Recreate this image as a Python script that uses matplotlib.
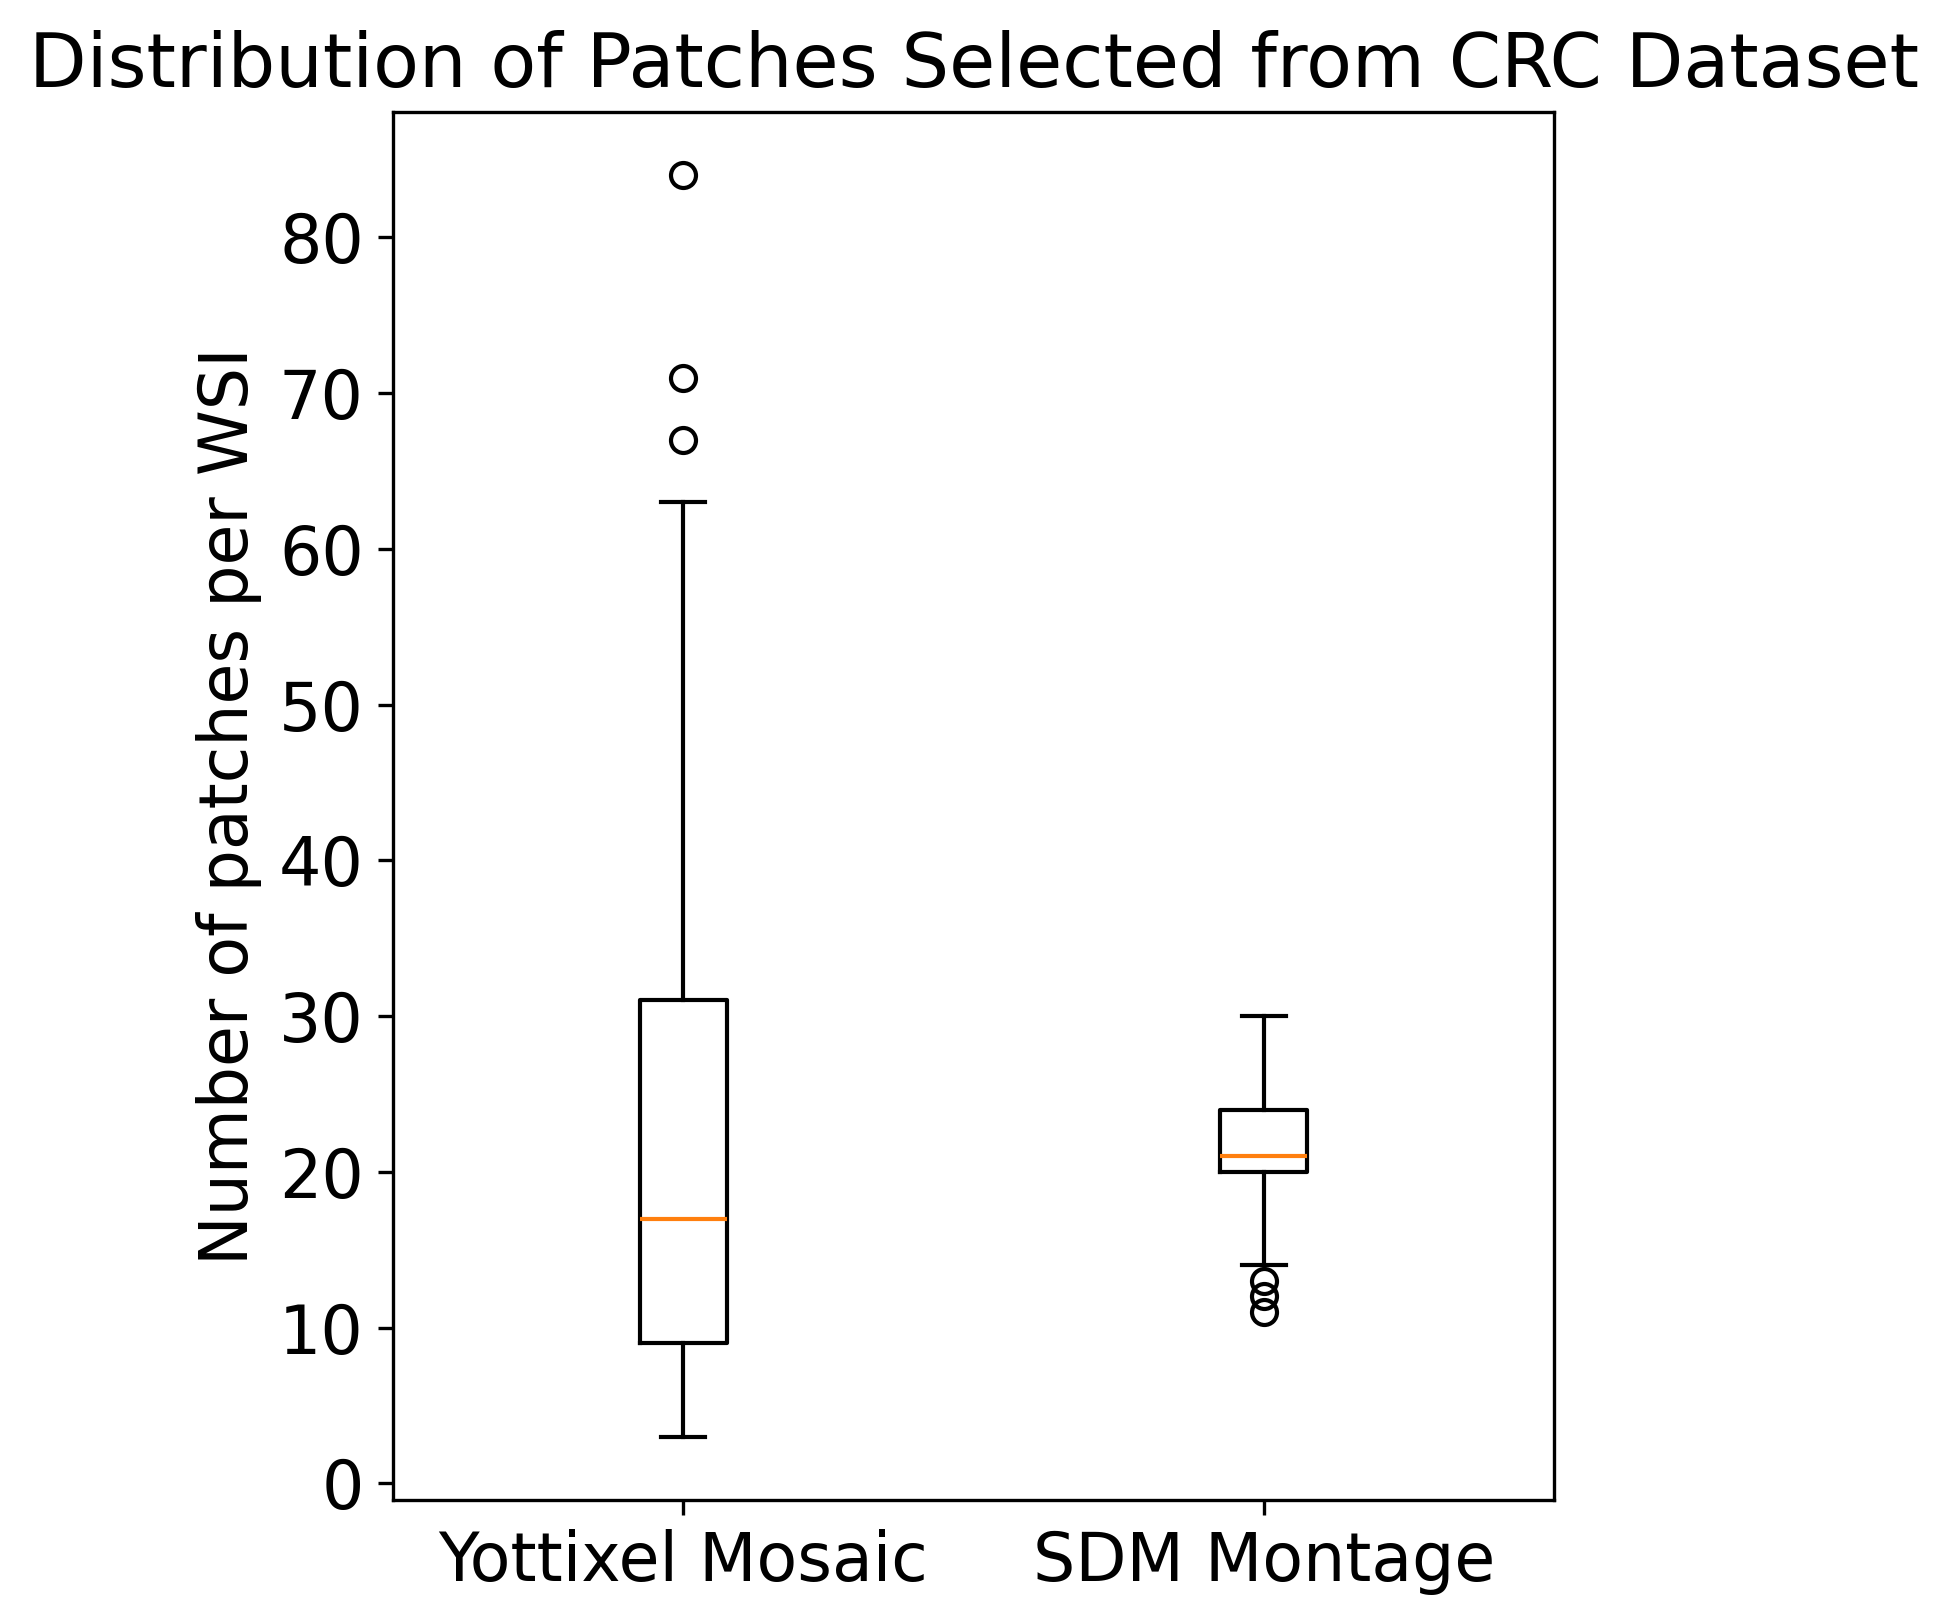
import matplotlib
matplotlib.use('Agg')
import matplotlib.pyplot as plt

plt.rcParams['font.size'] = 16

# Box statistics
labels = ['Yottixel Mosaic', 'SDM Montage']
whislo = [3, 14]
q1 = [9, 20]
med = [17, 21]
q3 = [31, 24]
whishi = [63, 30]
fliers = [[67, 71, 84], [11, 12, 13]]

stats = []
for i in range(len(labels)):
    stats.append({'label': labels[i], 'whislo': whislo[i], 'q1': q1[i], 'med': med[i],
                  'q3': q3[i], 'whishi': whishi[i], 'fliers': fliers[i]})

fig, ax = plt.subplots(figsize=(6.5, 5.41), dpi=300)
fig.subplots_adjust(left=0.2015, right=0.797, top=0.931, bottom=0.076)

ax.bxp(stats)
ax.set_title('Distribution of Patches Selected from CRC Dataset', fontsize=18)
ax.set_ylabel('Number of patches per WSI')

fig.savefig('out.png', dpi=300)
plt.close()
